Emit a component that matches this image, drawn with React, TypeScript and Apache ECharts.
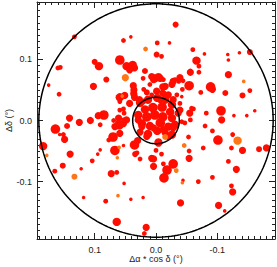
import React, { useEffect, useRef } from "react";
import * as echarts from "echarts";

// [Δα cosδ (deg), Δδ (deg), marker size]
const redPoints: number[][] = [
  [-0.032, 0.157, 5], [0.133, 0.137, 4], [0.041, 0.137, 3], [0.053, 0.131, 4], [-0.002, 0.127, 4],
  [-0.022, 0.127, 3], [-0.060, 0.116, 4], [-0.001, 0.108, 5], [-0.009, 0.105, 4], [-0.079, 0.109, 3],
  [-0.117, 0.108, 3], [-0.136, 0.111, 3], [-0.153, 0.112, 5], [-0.118, 0.099, 3], [-0.066, 0.098, 7],
  [0.059, 0.099, 8], [0.100, 0.096, 5], [0.093, 0.089, 7], [0.156, 0.087, 4], [0.160, 0.086, 4],
  [0.048, 0.089, 7], [0.038, 0.091, 7], [0.035, 0.086, 6], [0.043, 0.083, 6], [-0.070, 0.089, 4],
  [0.018, 0.081, 5], [-0.056, 0.079, 6], [-0.070, 0.079, 4], [-0.118, 0.075, 6], [0.021, 0.069, 4],
  [0.081, 0.067, 5], [0.002, 0.069, 7], [-0.004, 0.071, 7], [0.004, 0.067, 6], [0.007, 0.072, 6],
  [-0.007, 0.069, 6], [-0.012, 0.067, 4], [-0.028, 0.064, 6], [-0.037, 0.064, 4], [-0.044, 0.065, 4],
  [-0.054, 0.057, 8], [0.102, 0.056, 6], [0.175, 0.058, 3], [0.037, 0.057, 6], [0.036, 0.050, 6],
  [0.036, 0.043, 6], [0.035, 0.038, 6], [0.010, 0.059, 4], [0.020, 0.051, 4], [0.015, 0.046, 5],
  [0.007, 0.042, 4], [-0.001, 0.048, 6], [-0.011, 0.045, 6], [-0.020, 0.042, 6], [-0.011, 0.055, 6],
  [-0.015, 0.056, 6], [-0.026, 0.059, 6], [-0.031, 0.067, 4], [-0.039, 0.070, 6], [-0.043, 0.051, 4],
  [-0.089, 0.055, 8], [-0.092, 0.051, 6], [-0.073, 0.046, 4], [-0.113, 0.045, 5], [-0.153, 0.049, 4],
  [-0.141, 0.041, 5], [0.158, 0.043, 4], [0.059, 0.038, 7], [0.051, 0.041, 6], [0.037, 0.045, 5],
  [0.027, 0.034, 6], [0.021, 0.031, 5], [-0.007, 0.034, 6], [-0.028, 0.034, 6], [-0.034, 0.042, 4],
  [-0.039, 0.028, 4], [-0.042, 0.039, 3], [0.059, 0.031, 4], [0.043, 0.028, 6], [0.053, 0.019, 4],
  [-0.036, 0.012, 6], [-0.061, 0.019, 4], [-0.039, 0.017, 6], [-0.058, 0.020, 4], [-0.055, 0.012, 6],
  [-0.106, 0.016, 8], [-0.082, 0.012, 4], [-0.107, 0.001, 6], [-0.127, 0.008, 3], [-0.148, 0.008, 3],
  [-0.161, 0.016, 3], [0.085, 0.009, 8], [0.094, 0.008, 6], [0.096, 0.007, 4], [0.107, 0.000, 6],
  [0.125, -0.003, 6], [0.141, 0.004, 6], [0.145, -0.009, 5], [0.164, -0.014, 8], [0.059, 0.017, 4],
  [0.061, 0.004, 6], [0.069, 0.000, 4], [0.060, -0.007, 8], [0.048, 0.001, 6], [0.052, 0.012, 4],
  [0.091, -0.007, 4], [0.067, -0.010, 6], [0.053, -0.005, 6], [-0.056, 0.001, 4], [-0.080, -0.009, 4],
  [-0.042, -0.002, 4], [-0.047, -0.004, 4],
  // central cluster
  [0.026, 0.029, 7], [0.013, 0.034, 7], [-0.002, 0.037, 7], [-0.015, 0.034, 7], [-0.026, 0.026, 7],
  [0.018, 0.018, 7], [0.005, 0.021, 8], [-0.010, 0.022, 8], [-0.023, 0.014, 7], [0.029, 0.009, 7],
  [0.015, 0.006, 8], [0.002, 0.009, 8], [-0.011, 0.006, 8], [-0.026, 0.004, 7], [0.023, -0.005, 7],
  [0.010, -0.009, 7], [-0.007, -0.004, 8], [-0.020, -0.010, 7], [-0.031, -0.007, 7], [0.026, -0.019, 6],
  [0.013, -0.022, 7], [-0.002, -0.017, 7], [-0.015, -0.020, 6], [-0.026, -0.023, 7], [0.015, -0.026, 6],
  [-0.020, -0.026, 6], [0.029, 0.001, 6], [0.023, -0.010, 6], [0.004, -0.012, 6], [-0.012, -0.015, 6],
  [-0.028, -0.012, 6], [-0.004, -0.036, 7], [0.059, -0.021, 6], [0.053, 0.001, 4],
  // lower half
  [0.184, -0.042, 7], [0.157, -0.023, 3], [0.151, -0.023, 4], [0.149, -0.031, 6], [0.140, -0.055, 6],
  [0.152, -0.074, 5], [0.165, -0.083, 4], [0.122, -0.079, 3], [0.104, -0.066, 4], [0.095, -0.055, 3],
  [0.091, -0.048, 3], [0.118, -0.126, 3], [0.082, -0.132, 4], [0.067, -0.049, 8], [0.053, -0.041, 3],
  [0.070, -0.027, 8], [0.077, -0.032, 4], [0.073, -0.087, 6], [0.064, -0.085, 4], [0.052, -0.103, 3],
  [0.041, -0.129, 3], [0.021, -0.126, 3], [0.064, -0.166, 7], [0.016, -0.175, 6], [0.019, -0.185, 4],
  [0.035, -0.040, 8], [0.030, -0.033, 6], [0.034, -0.055, 5], [0.026, -0.063, 4], [0.031, -0.053, 4],
  [0.007, -0.062, 6], [0.000, -0.049, 4], [0.004, -0.063, 6], [0.004, -0.075, 6], [-0.009, -0.055, 4],
  [-0.012, -0.071, 4], [-0.028, -0.071, 8], [-0.018, -0.081, 8], [-0.013, -0.094, 8], [-0.044, -0.098, 3],
  [-0.040, -0.135, 6], [-0.053, -0.027, 4], [-0.054, -0.050, 4], [-0.054, -0.062, 6], [-0.069, -0.100, 4],
  [-0.092, -0.093, 4], [-0.077, -0.045, 4], [-0.092, -0.017, 4], [-0.101, -0.032, 8], [-0.125, -0.023, 4],
  [-0.123, -0.045, 4], [-0.141, -0.049, 6], [-0.168, -0.047, 5], [-0.180, -0.045, 6], [-0.118, -0.067, 4],
  [-0.131, -0.080, 6], [-0.123, -0.107, 4], [-0.125, -0.117, 6], [-0.102, -0.139, 6], [-0.112, -0.148, 3],
];

const orangePoints: number[][] = [
  [0.017, 0.117, 4], [0.050, 0.070, 6], [-0.143, 0.064, 3], [0.055, 0.040, 3], [-0.015, -0.027, 5],
  [0.060, -0.044, 3], [0.063, -0.061, 3], [0.178, -0.057, 3], [0.133, -0.092, 5], [0.062, -0.123, 3],
  [-0.033, -0.082, 4], [-0.043, -0.102, 3], [-0.046, -0.041, 4], [-0.133, -0.033, 7],
];

const axisRange = 0.194;
const majorTicks = [-0.1, 0, 0.1];
const minorStep = 0.01;
const bigCircleRadius = 0.191;
const smallCircleRadius = 0.038;
const sizeScale = 1.2;

const FONT = "'Liberation Sans', Arial, Helvetica, sans-serif";
const INK = "#222";

function circlePoints(r: number): number[][] {
  const pts: number[][] = [];
  for (let i = 0; i <= 240; i++) {
    const a = (i / 240) * Math.PI * 2;
    pts.push([r * Math.cos(a), r * Math.sin(a)]);
  }
  return pts;
}

function minorTicks(): number[] {
  const out: number[] = [];
  const n = Math.floor(axisRange / minorStep);
  for (let i = -n; i <= n; i++) {
    if (i % 10 !== 0) out.push(Math.round(i * minorStep * 1000) / 1000);
  }
  return out;
}

export default function App() {
  const ref = useRef<HTMLDivElement>(null);
  useEffect(() => {
    if (!ref.current) return;
    const chart = echarts.init(ref.current, undefined, { renderer: "svg" });
    const minors = minorTicks();
    const base = { type: "value" as const, min: -axisRange, max: axisRange, splitLine: { show: false } };
    const lbl = {
      fontFamily: FONT,
      fontSize: 9,
      color: INK,
      formatter: (v: number) => (Math.abs(v) < 1e-9 ? "0.0" : v.toFixed(1)),
    };
    const makeAxes = (isX: boolean) => {
      const posA = isX ? "bottom" : "left";
      const posB = isX ? "top" : "right";
      const extra = isX ? { inverse: true } : {};
      return [
        {
          ...base, ...extra, position: posA,
          axisLine: { show: true, onZero: false, lineStyle: { color: INK, width: 1 } },
          axisTick: { show: true, inside: true, length: 6, customValues: majorTicks, lineStyle: { color: INK } },
          axisLabel: { show: true, margin: isX ? 6 : 5, customValues: majorTicks, ...lbl },
          name: isX ? "Δα * cos δ (°)" : "Δδ (°)",
          nameLocation: "middle",
          nameGap: isX ? 15 : 24,
          nameMoveOverlap: false,
          nameTextStyle: { fontFamily: FONT, fontSize: 9, color: INK },
        },
        {
          ...base, ...extra, position: posA,
          axisLine: { show: false, onZero: false },
          axisTick: { show: true, inside: true, length: 3, customValues: minors, lineStyle: { color: INK } },
          axisLabel: { show: false },
        },
        {
          ...base, ...extra, position: posB,
          axisLine: { show: true, onZero: false, lineStyle: { color: INK, width: 1 } },
          axisTick: { show: true, inside: true, length: 6, customValues: majorTicks, lineStyle: { color: INK } },
          axisLabel: { show: false },
        },
        {
          ...base, ...extra, position: posB,
          axisLine: { show: false, onZero: false },
          axisTick: { show: true, inside: true, length: 3, customValues: minors, lineStyle: { color: INK } },
          axisLabel: { show: false },
        },
      ];
    };
    chart.setOption({
      animation: false,
      backgroundColor: "#fff",
      grid: { left: 37, right: 2, top: 2, bottom: 28, containLabel: false, outerBoundsMode: "none" },
      xAxis: makeAxes(true),
      yAxis: makeAxes(false),
      series: [
        {
          type: "scatter",
          data: redPoints,
          symbolSize: (v: number[]) => v[2] * sizeScale,
          itemStyle: { color: "#ff0d00", opacity: 1 },
          silent: true,
        },
        {
          type: "scatter",
          data: orangePoints,
          symbolSize: (v: number[]) => v[2] * sizeScale,
          itemStyle: { color: "#ff7414", opacity: 1 },
          silent: true,
        },
        {
          type: "line",
          data: circlePoints(bigCircleRadius),
          showSymbol: false,
          symbol: "none",
          lineStyle: { color: "#000", width: 1.5 },
          silent: true,
          z: 5,
        },
        {
          type: "line",
          data: circlePoints(smallCircleRadius),
          showSymbol: false,
          symbol: "none",
          lineStyle: { color: "#000", width: 1.5 },
          silent: true,
          z: 5,
        },
      ],
    });
    return () => chart.dispose();
  }, []);
  return (
    <div
      ref={ref}
      style={{ position: "fixed", left: 0, top: 0, width: 277, height: 267, background: "#fff" }}
    />
  );
}
